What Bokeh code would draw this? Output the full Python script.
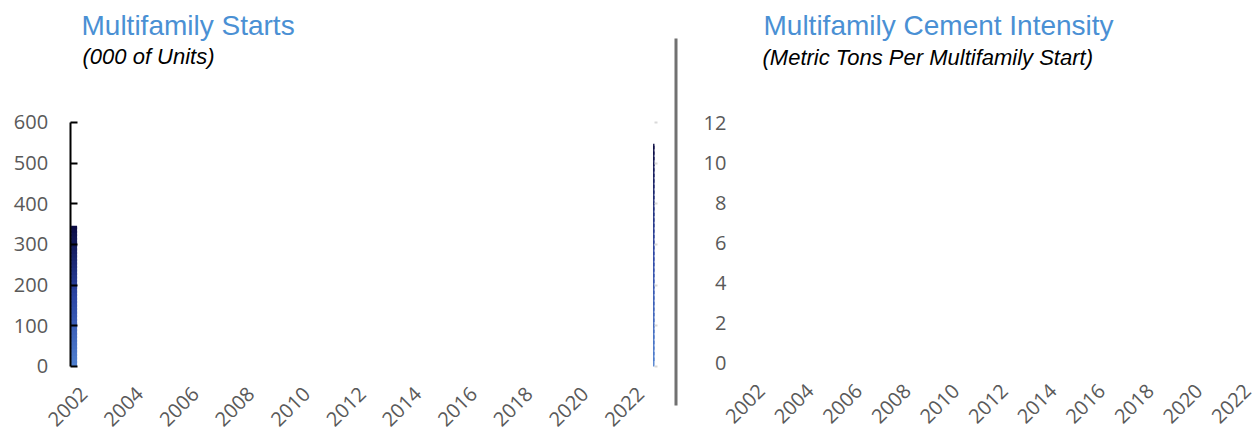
import math
from bokeh.plotting import figure
from bokeh.models import Range1d, LinearAxis, FixedTicker, Label, CustomJSTickFormatter, ColumnDataSource, BoxAnnotation
from bokeh.layouts import row
from bokeh.embed import file_html
from bokeh.resources import INLINE

# ---------------- data ----------------
starts_years = [2002, 2022]            # only these two bars are visible in the reference
starts_values = [346, 548]             # thousand units
starts_ticks = [0, 100, 200, 300, 400, 500, 600]
intensity_years = []                   # no intensity marks are drawn in the reference
intensity_values = []
intensity_ticks = [0, 2, 4, 6, 8, 10, 12]
year_ticks = [2002, 2004, 2006, 2008, 2010, 2012, 2014, 2016, 2018, 2020, 2022]
left_title = "Multifamily Starts"
left_subtitle = "(000 of Units)"
right_title = "Multifamily Cement Intensity"
right_subtitle = "(Metric Tons Per Multifamily Start)"

# ---------------- styles ----------------
TITLE_BLUE = "#4a90d4"
TICK_GREY = "#595959"
TICK_FONT = "Open Sans"
TICK_SIZE = "20px"
TEXT_FONT = "Liberation Sans"
BAR_OFFSETS = [(-0.464, -0.248), (0.45, 0.5)]   # bar extent relative to its year (partially drawn bars)
STOPS = [(0.0, (80, 128, 207)), (0.5, (44, 70, 165)), (1.0, (10, 10, 64))]
N_SLICES = 40


def grad(t):
    for (t0, c0), (t1, c1) in zip(STOPS[:-1], STOPS[1:]):
        if t <= t1:
            f = (t - t0) / (t1 - t0)
            return "#%02x%02x%02x" % tuple(int(round(a + (b - a) * f)) for a, b in zip(c0, c1))
    return "#%02x%02x%02x" % STOPS[-1][1]


def no_frame(p):
    p.outline_line_color = None
    p.grid.visible = False


# ---------------- left chart (frame spans whole canvas) ----------------
p1 = figure(width=680, height=432, output_backend="svg", toolbar_location=None,
            x_range=Range1d(1999.0, 2023.435), y_range=Range1d(-162.3, 900),
            min_border_left=0, min_border_right=0, min_border_top=0, min_border_bottom=0,
            x_axis_type=None, y_axis_type=None)
no_frame(p1)

lefts, rights, bottoms, tops, colors = [], [], [], [], []
for yr, v, (ol, orr) in zip(starts_years, starts_values, BAR_OFFSETS):
    for i in range(N_SLICES):
        lefts.append(yr + ol)
        rights.append(yr + orr)
        bottoms.append(v * i / N_SLICES)
        tops.append(min(v, v * (i + 1.6) / N_SLICES))
        colors.append(grad((i + 0.5) / N_SLICES))
src = ColumnDataSource(dict(left=lefts, right=rights, bottom=bottoms, top=tops, color=colors))
p1.quad(left="left", right="right", bottom="bottom", top="top", source=src,
        fill_color="color", line_color=None)

yax1 = LinearAxis(ticker=FixedTicker(ticks=starts_ticks), bounds=(0, 600), fixed_location=2001.5,
                  axis_line_color="black", axis_line_width=2,
                  major_tick_line_color="black", major_tick_line_width=2,
                  major_tick_in=7, major_tick_out=0, minor_tick_line_color=None,
                  major_label_standoff=22, major_label_text_font=TICK_FONT,
                  major_label_text_font_size=TICK_SIZE, major_label_text_color=TICK_GREY)
p1.add_layout(yax1, "left")

rax1 = LinearAxis(ticker=FixedTicker(ticks=starts_ticks), bounds=(0, 600), fixed_location=2022.5,
                  axis_line_color=None, major_tick_line_color="#d9d9d9", major_tick_line_width=2,
                  major_tick_in=0, major_tick_out=3, minor_tick_line_color=None,
                  formatter=CustomJSTickFormatter(code="return ''"),
                  major_label_text_font_size="1px")
p1.add_layout(rax1, "right")

xax1 = LinearAxis(ticker=FixedTicker(ticks=year_ticks), fixed_location=0,
                  axis_line_color=None, major_tick_line_color=None, minor_tick_line_color=None,
                  major_label_orientation=math.pi / 4, major_label_standoff=18,
                  major_label_text_font=TICK_FONT, major_label_text_font_size=TICK_SIZE,
                  major_label_text_color=TICK_GREY)
p1.add_layout(xax1, "below")

p1.add_layout(Label(x=81, y=407, x_units="screen", y_units="screen", text=left_title,
                    text_font=TEXT_FONT, text_font_size="28px", text_color=TITLE_BLUE,
                    text_baseline="alphabetic"))
p1.add_layout(Label(x=82, y=376, x_units="screen", y_units="screen", text=left_subtitle,
                    text_font=TEXT_FONT, text_font_size="22px", text_font_style="italic",
                    text_color="black", text_baseline="alphabetic"))

# vertical divider between the two panels
p1.add_layout(BoxAnnotation(left=674, right=677, bottom=27, top=394,
                            left_units="screen", right_units="screen",
                            bottom_units="screen", top_units="screen",
                            fill_color="#717171", fill_alpha=1.0, line_color=None))

# ---------------- right chart ----------------
p2 = figure(width=578, height=432, output_backend="svg", toolbar_location=None,
            x_range=Range1d(1998.667, 2022.453), y_range=Range1d(-3.436, 18.075),
            min_border_left=0, min_border_right=0, min_border_top=0, min_border_bottom=0,
            x_axis_type=None, y_axis_type=None)
no_frame(p2)
p2.scatter(x=intensity_years, y=intensity_values, size=0)

yax2 = LinearAxis(ticker=FixedTicker(ticks=intensity_ticks), fixed_location=2001.547,
                  axis_line_color=None, major_tick_line_color=None, major_tick_in=0, major_tick_out=0,
                  minor_tick_line_color=None, major_label_standoff=24,
                  major_label_text_font=TICK_FONT, major_label_text_font_size=TICK_SIZE,
                  major_label_text_color=TICK_GREY)
p2.add_layout(yax2, "left")

xax2 = LinearAxis(ticker=FixedTicker(ticks=year_ticks), fixed_location=0,
                  axis_line_color=None, major_tick_line_color=None, minor_tick_line_color=None,
                  major_label_orientation=math.pi / 4, major_label_standoff=18,
                  major_label_text_font=TICK_FONT, major_label_text_font_size=TICK_SIZE,
                  major_label_text_color=TICK_GREY)
p2.add_layout(xax2, "below")

p2.add_layout(Label(x=83, y=407, x_units="screen", y_units="screen", text=right_title,
                    text_font=TEXT_FONT, text_font_size="28px", text_color=TITLE_BLUE,
                    text_baseline="alphabetic"))
p2.add_layout(Label(x=82, y=375, x_units="screen", y_units="screen", text=right_subtitle,
                    text_font=TEXT_FONT, text_font_size="22px", text_font_style="italic",
                    text_color="black", text_baseline="alphabetic"))

layout = row(p1, p2)
open("out.html", "w").write(file_html(layout, INLINE))
